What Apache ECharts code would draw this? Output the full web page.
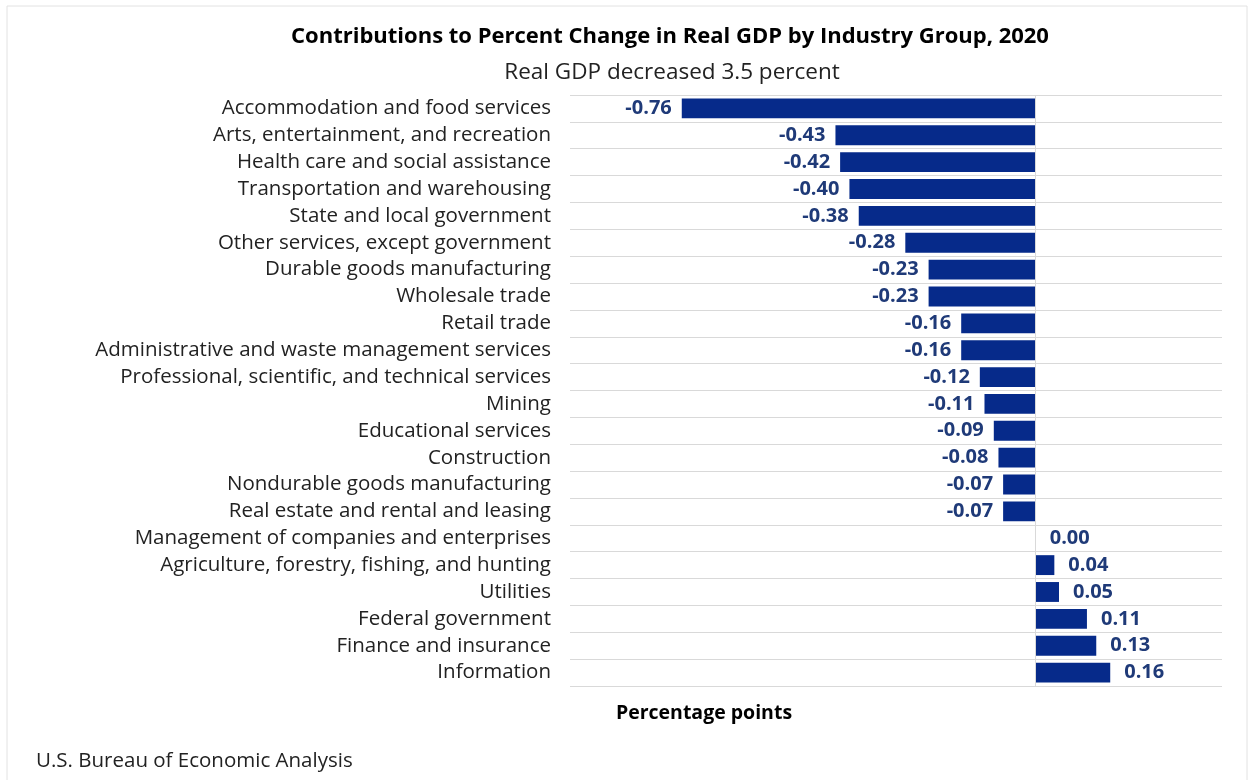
<!DOCTYPE html>
<html>
<head>
<meta charset="utf-8">
<script src="https://cdn.jsdelivr.net/npm/echarts@6/dist/echarts.min.js"></script>
<style>
html,body{margin:0;padding:0;background:#fff;}
#chart{width:1250px;height:780px;}
</style>
</head>
<body>
<div id="chart"></div>
<script>
var categories = [
  "Accommodation and food services",
  "Arts, entertainment, and recreation",
  "Health care and social assistance",
  "Transportation and warehousing",
  "State and local government",
  "Other services, except government",
  "Durable goods manufacturing",
  "Wholesale trade",
  "Retail trade",
  "Administrative and waste management services",
  "Professional, scientific, and technical services",
  "Mining",
  "Educational services",
  "Construction",
  "Nondurable goods manufacturing",
  "Real estate and rental and leasing",
  "Management of companies and enterprises",
  "Agriculture, forestry, fishing, and hunting",
  "Utilities",
  "Federal government",
  "Finance and insurance",
  "Information"
];
var contributions = [-0.76, -0.43, -0.42, -0.40, -0.38, -0.28, -0.23, -0.23, -0.16, -0.16, -0.12, -0.11, -0.09, -0.08, -0.07, -0.07, 0.00, 0.04, 0.05, 0.11, 0.13, 0.16];

var titleText = "Contributions to Percent Change in Real GDP by Industry Group, 2020";
var subtitleText = "Real GDP decreased 3.5 percent";
var axisTitle = "Percentage points";
var sourceText = "U.S. Bureau of Economic Analysis";

var FONT = "'Open Sans', Lato, sans-serif";
var chart = echarts.init(document.getElementById('chart'), null, {renderer: 'canvas'});

var seriesData = contributions.map(function (v) {
  return {
    value: v,
    label: { position: v < 0 ? 'left' : 'right', distance: v < 0 ? 10 : 14 }
  };
});

chart.setOption({
  backgroundColor: '#ffffff',
  animation: false,
  title: [
    { text: titleText, left: 665, top: 21, textAlign: 'center',
      textStyle: { fontFamily: FONT, fontSize: 22, fontWeight: 'bold', color: '#000' } },
    { text: subtitleText, left: 667, top: 56, textAlign: 'center',
      textStyle: { fontFamily: FONT, fontSize: 22.5, fontWeight: 'normal', color: '#222' } },
    { text: axisTitle, left: 699, top: 698, textAlign: 'center',
      textStyle: { fontFamily: FONT, fontSize: 19.5, fontWeight: 'bold', color: '#000' } },
    { text: sourceText, left: 31, top: 746,
      textStyle: { fontFamily: FONT, fontSize: 20.5, fontWeight: 'normal', color: '#222' } }
  ],
  graphic: [
    { type: 'rect', shape: { x: 7, y: 6, width: 1240, height: 790 },
      style: { fill: 'none', stroke: '#e2e2e2', lineWidth: 1 }, silent: true }
  ],
  grid: { left: 570, right: 28, top: 95, bottom: 94, containLabel: false },
  xAxis: {
    type: 'value', min: -1.0, max: 0.4,
    axisLine: { show: false }, axisTick: { show: false },
    axisLabel: { show: false }, splitLine: { show: false }
  },
  yAxis: {
    type: 'category', data: categories, inverse: true,
    axisLine: { show: false }, axisTick: { show: false, interval: 0 },
    axisLabel: { fontFamily: FONT, fontSize: 20.5, color: '#222', margin: 19, interval: 0 },
    splitLine: { show: true, interval: 0, lineStyle: { color: '#d9d9d9', width: 1 } }
  },
  series: [{
    type: 'bar',
    data: seriesData,
    barCategoryGap: '26%',
    itemStyle: { color: '#062a8a' },
    label: {
      show: true,
      fontFamily: FONT, fontSize: 20, fontWeight: 'bold', color: '#1f3a78',
      formatter: function (p) { return p.value.toFixed(2); }
    },
    markLine: {
      silent: true, symbol: 'none', label: { show: false },
      lineStyle: { color: '#d9d9d9', type: 'solid', width: 1 },
      data: [{ xAxis: 0 }]
    }
  }]
});
</script>
</body>
</html>
